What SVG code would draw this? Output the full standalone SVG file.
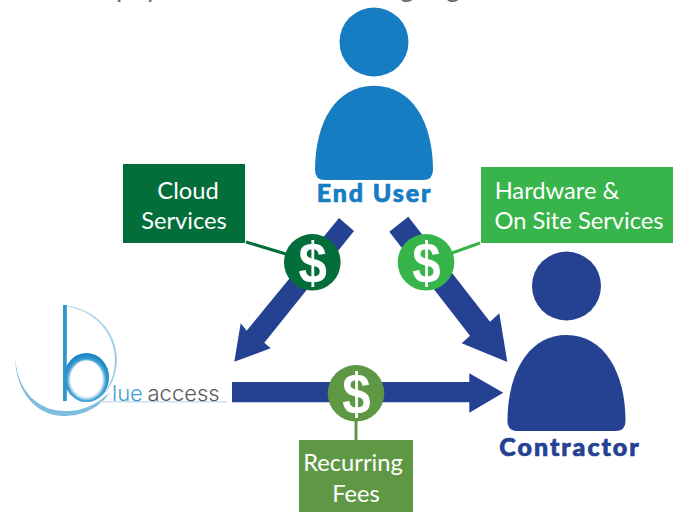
<svg xmlns="http://www.w3.org/2000/svg" width="676" height="512" viewBox="0 0 676 512">
<style>
.lbl{font-family:"Lato","Open Sans",sans-serif;font-size:23.700px;fill:#fff;text-anchor:middle}
.who{font-family:"Lato",sans-serif;font-weight:900;font-size:25px;text-anchor:middle}
.dol{font-family:"Liberation Sans",sans-serif;font-weight:700;font-size:58px;fill:#fff;text-anchor:middle}
.arrow{fill:#244192}
</style>
<defs>
<radialGradient id="ring" cx=".5" cy=".55" r=".5"><stop offset=".72" stop-color="#e3eef6"/><stop offset=".86" stop-color="#3f9fd3"/><stop offset="1" stop-color="#1f86c6"/></radialGradient>
<linearGradient id="arcTop" x1="0" y1="0" x2="1" y2="1"><stop offset="0" stop-color="#d3e6f2"/><stop offset="1" stop-color="#7fbfe2"/></linearGradient>
</defs>
<rect width="676" height="512" fill="#fff"/>
<text y="-3" font-family="Lato,sans-serif" font-size="27" fill="#6b6b6b"><tspan x="116">p</tspan><tspan x="145">y</tspan><tspan x="400">g</tspan><tspan x="446">g</tspan></text>
<g id="connectors">
<polygon class="arrow" points="339,218 354,231 264.3,342.7 270.7,348.3 234.3,361.7 240.7,323.3 246.7,330.7"/>
<polygon class="arrow" points="408.3,216.7 389.3,231.7 470,335.7 461.7,343.3 507.3,362 499.3,313.3 490,321.7"/>
<polygon class="arrow" points="232,382 469.3,382 469.3,373.3 503.3,392.7 469.3,412.7 469.3,402.3 232,402.3"/>
<line x1="246" y1="242" x2="286" y2="254" stroke="#036e3a" stroke-width="3"/>
<line x1="480" y1="243" x2="452" y2="253" stroke="#37b44a" stroke-width="3"/>
<line x1="356" y1="420" x2="356" y2="441" stroke="#5f9845" stroke-width="3"/>
</g>
<g id="end-user">
<circle cx="374" cy="42" r="34.5" fill="#167dc2"/>
<path d="M315 170C315 122 336 85.700 374 85.700C412 85.700 433 122 433 170Q433 180 423 180H325Q315 180 315 170Z" fill="#167dc2"/>
<text class="who" x="374.500" y="202" letter-spacing="1.900" fill="#167dc2" stroke="#167dc2" stroke-width=".7">End User</text>
</g>
<g id="contractor">
<circle cx="566.500" cy="286" r="34.500" fill="#244192"/>
<path d="M507.500 421C507.500 373 528.500 335 566.500 335C604.500 335 625.500 373 625.500 421Q625.500 431 615.500 431H517.500Q507.500 431 507.500 421Z" fill="#244192"/>
<text class="who" x="570" y="456" letter-spacing="2" fill="#244192" stroke="#244192" stroke-width=".7">Contractor</text>
</g>
<g id="cloud-services">
<rect x="123" y="164" width="122" height="79" fill="#036e3a"/>
<text class="lbl" x="188" y="199">Cloud</text>
<text class="lbl" x="184" y="229">Services</text>
</g>
<g id="hardware">
<rect x="481" y="167" width="192" height="76" fill="#37b44a"/>
<text class="lbl" x="557" y="199">Hardware &amp;</text>
<text class="lbl" x="579" y="229">On Site Services</text>
</g>
<g id="recurring-fees">
<rect x="299" y="440" width="114" height="72" fill="#5f9845"/>
<text class="lbl" x="353" y="471">Recurring</text>
<text class="lbl" x="356" y="502">Fees</text>
</g>
<g id="dollar-cloud"><circle cx="312.300" cy="262.300" r="28.300" fill="#036e3a"/><text class="dol" transform="translate(312.800 282.500) scale(.88 1)">$</text></g>
<g id="dollar-hardware"><circle cx="426" cy="262.300" r="28.300" fill="#37b44a"/><text class="dol" transform="translate(426.500 282.500) scale(.88 1)">$</text></g>
<g id="dollar-fees"><circle cx="356" cy="393.300" r="28.300" fill="#5f9845"/><text class="dol" transform="translate(356.500 413.500) scale(.88 1)">$</text></g>
<g id="blue-access">
<path d="M64 305C96 308 116 332 116.800 358C117 376 110 390 98 400C110 388 115.500 374 115 358C114 332 94 310 64 306.500Z" fill="url(#arcTop)"/>
<path d="M15 358C18 392 38 410 63 411C82 412 98 404 110 392C100 408 82 416.500 62 416C36 415 16 392 15 358Z" fill="#7fbde0"/>
<ellipse cx="86.500" cy="377.500" rx="22.500" ry="24.500" fill="url(#ring)"/>
<ellipse cx="86.500" cy="378.500" rx="16" ry="18" fill="#fff"/>
<rect x="63" y="305" width="3.800" height="96" fill="#2e95cf"/>
<rect x="100" y="401" width="127" height="1.500" fill="#cfe0ec"/>
<text x="112" y="401" font-family="Inter,sans-serif" font-weight="300" font-size="22" fill="#3f9fd3">lue</text>
<text x="147.500" y="401" font-family="Inter,sans-serif" font-weight="300" font-size="22" fill="#58595b">access</text>
</g>
</svg>
